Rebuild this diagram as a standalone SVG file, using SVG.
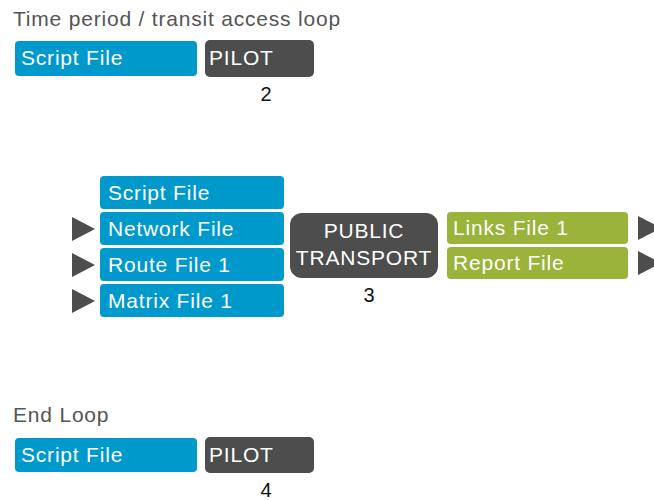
<svg xmlns="http://www.w3.org/2000/svg" width="654" height="500" viewBox="0 0 654 500">
<style>
text{font-family:"Liberation Sans",Arial,sans-serif;font-size:21px;letter-spacing:0.8px}
.title{fill:#555555}
.lbl{fill:#ffffff}
.num{fill:#111111;font-size:20px;text-anchor:middle;letter-spacing:0}
.file{fill:#0099cc}
.prog{fill:#4d4d4d}
.out{fill:#99b33b}
.arr{fill:#4d4d4d}
</style>
<rect width="654" height="500" fill="#ffffff"/>
<text class="title" x="13" y="26">Time period / transit access loop</text>
<g id="script1"><rect class="file" x="15" y="41" width="182" height="35" rx="4"/><text class="lbl" x="21" y="65">Script File</text></g>
<g id="pilot2"><rect class="prog" x="205" y="40" width="109" height="37" rx="5"/><text class="lbl" x="209" y="65">PILOT</text><text class="num" x="266" y="101">2</text></g>

<g id="script3"><rect class="file" x="100" y="176" width="184" height="33" rx="4"/><text class="lbl" x="108" y="200">Script File</text></g>
<g id="network"><rect class="file" x="100" y="212" width="184" height="33" rx="4"/><text class="lbl" x="108" y="236">Network File</text></g>
<g id="route"><rect class="file" x="100" y="248" width="184" height="33" rx="4"/><text class="lbl" x="108" y="272">Route File 1</text></g>
<g id="matrix"><rect class="file" x="100" y="284" width="184" height="33" rx="4"/><text class="lbl" x="108" y="308">Matrix File 1</text></g>
<g id="pt3"><rect class="prog" x="290" y="213" width="148" height="65" rx="12"/><text class="lbl" x="364" y="238" text-anchor="middle">PUBLIC</text><text class="lbl" x="364" y="265" text-anchor="middle">TRANSPORT</text><text class="num" x="369" y="302">3</text></g>
<g id="links"><rect class="out" x="447" y="212" width="181" height="32" rx="4"/><text class="lbl" x="453" y="235">Links File 1</text></g>
<g id="report"><rect class="out" x="447" y="247" width="181" height="32" rx="4"/><text class="lbl" x="453" y="270">Report File</text></g>

<text class="title" x="13" y="422">End Loop</text>
<g id="script4"><rect class="file" x="15" y="438" width="182" height="34" rx="4"/><text class="lbl" x="21" y="462">Script File</text></g>
<g id="pilot4"><rect class="prog" x="205" y="437" width="109" height="36" rx="5"/><text class="lbl" x="209" y="462">PILOT</text><text class="num" x="266" y="497">4</text></g>

<g id="connectors">
<polygon class="arr" points="72,217 95,229 72,241"/>
<polygon class="arr" points="72,253 95,265 72,277"/>
<polygon class="arr" points="72,289 95,301 72,313"/>
<polygon class="arr" points="638,216 661,228 638,240"/>
<polygon class="arr" points="638,251 661,263 638,275"/>
</g>
</svg>
